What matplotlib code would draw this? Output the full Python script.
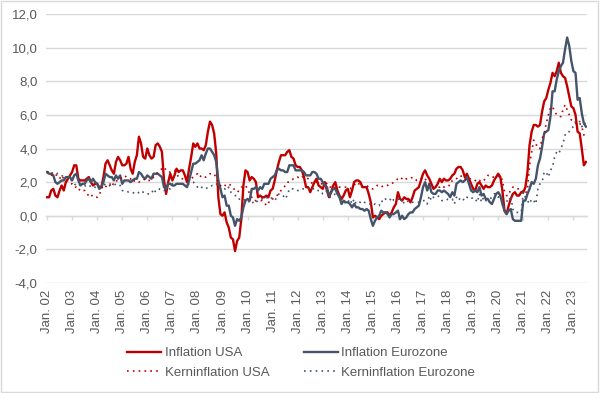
import matplotlib
matplotlib.use("Agg")
import matplotlib.pyplot as plt
from matplotlib.patches import Rectangle
import numpy as np

# Monthly YoY rates, Jan 2002 .. Jul 2023
inflation_usa = [
    1.1, 1.1, 1.5, 1.6, 1.2, 1.1, 1.5, 1.8, 1.5, 2.0, 2.2, 2.4,
    2.6, 3.0, 3.0, 2.2, 2.1, 2.1, 2.1, 2.2, 2.3, 2.0, 1.8, 1.9,
    1.9, 1.7, 1.7, 2.3, 3.1, 3.3, 3.0, 2.7, 2.5, 3.2, 3.5, 3.3,
    3.0, 3.0, 3.1, 3.5, 2.8, 2.5, 3.2, 3.6, 4.7, 4.3, 3.5, 3.4,
    4.0, 3.6, 3.4, 3.5, 4.2, 4.3, 4.1, 3.8, 2.1, 1.3, 2.0, 2.5,
    2.1, 2.4, 2.8, 2.6, 2.7, 2.7, 2.4, 2.0, 2.8, 3.5, 4.3, 4.1,
    4.3, 4.0, 4.0, 3.9, 4.2, 5.0, 5.6, 5.4, 4.9, 3.7, 1.1, 0.1,
    0.0, 0.2, -0.4, -0.7, -1.3, -1.4, -2.1, -1.5, -1.3, -0.2, 1.8, 2.7,
    2.6, 2.1, 2.3, 2.2, 2.0, 1.1, 1.2, 1.1, 1.1, 1.2, 1.1, 1.5,
    1.6, 2.1, 2.7, 3.2, 3.6, 3.6, 3.6, 3.8, 3.9, 3.5, 3.4, 3.0,
    2.9, 2.9, 2.7, 2.3, 1.7, 1.7, 1.4, 1.7, 2.0, 2.2, 1.8, 1.7,
    1.6, 2.0, 1.5, 1.1, 1.4, 1.8, 2.0, 1.5, 1.2, 1.0, 1.2, 1.5,
    1.6, 1.1, 1.5, 2.0, 2.1, 2.1, 2.0, 1.7, 1.7, 1.7, 1.3, 0.8,
    -0.1, 0.0, -0.1, -0.2, 0.0, 0.1, 0.2, 0.2, 0.0, 0.2, 0.5, 0.7,
    1.4, 1.0, 0.9, 1.1, 1.0, 1.0, 0.8, 1.1, 1.5, 1.6, 1.7, 2.1,
    2.5, 2.7, 2.4, 2.2, 1.9, 1.6, 1.7, 1.9, 2.2, 2.0, 2.2, 2.1,
    2.1, 2.2, 2.4, 2.5, 2.8, 2.9, 2.9, 2.7, 2.3, 2.5, 2.2, 1.9,
    1.6, 1.5, 1.9, 2.0, 1.8, 1.6, 1.8, 1.7, 1.7, 1.8, 2.1, 2.3,
    2.5, 2.3, 1.5, 0.3, 0.1, 0.6, 1.0, 1.3, 1.4, 1.2, 1.2, 1.4,
    1.4, 1.7, 2.6, 4.2, 5.0, 5.4, 5.4, 5.3, 5.4, 6.2, 6.8, 7.0,
    7.5, 7.9, 8.5, 8.3, 8.6, 9.1, 8.5, 8.3, 8.2, 7.7, 7.1, 6.5,
    6.4, 6.0, 5.0, 4.9, 4.0, 3.0, 3.2,
]

inflation_eurozone = [
    2.6, 2.5, 2.5, 2.4, 2.0, 1.9, 2.0, 2.1, 2.1, 2.3, 2.3, 2.3,
    2.1, 2.4, 2.5, 2.1, 1.8, 1.9, 1.9, 2.1, 2.2, 2.0, 2.2, 2.0,
    1.9, 1.6, 1.7, 2.0, 2.5, 2.4, 2.3, 2.3, 2.1, 2.4, 2.2, 2.4,
    1.9, 2.1, 2.1, 2.1, 2.0, 2.1, 2.2, 2.2, 2.6, 2.5, 2.3, 2.2,
    2.4, 2.3, 2.2, 2.5, 2.5, 2.5, 2.4, 2.3, 1.7, 1.6, 1.9, 1.9,
    1.8, 1.8, 1.9, 1.9, 1.9, 1.9, 1.8, 1.7, 2.1, 2.6, 3.1, 3.1,
    3.2, 3.3, 3.6, 3.3, 3.7, 4.0, 4.0, 3.8, 3.6, 3.2, 2.1, 1.6,
    1.1, 1.2, 0.6, 0.6, 0.0, -0.1, -0.6, -0.2, -0.3, -0.1, 0.5, 0.9,
    1.0, 0.9, 1.6, 1.6, 1.7, 1.5, 1.7, 1.6, 1.9, 1.9, 1.9, 2.2,
    2.3, 2.4, 2.7, 2.8, 2.7, 2.7, 2.6, 2.6, 3.0, 3.0, 3.0, 2.7,
    2.7, 2.7, 2.7, 2.6, 2.4, 2.4, 2.4, 2.6, 2.6, 2.5, 2.2, 2.2,
    2.0, 1.8, 1.7, 1.2, 1.4, 1.6, 1.6, 1.3, 1.1, 0.7, 0.9, 0.8,
    0.8, 0.7, 0.5, 0.7, 0.5, 0.5, 0.4, 0.4, 0.3, 0.4, 0.3, -0.2,
    -0.6, -0.3, -0.1, 0.0, 0.3, 0.2, 0.2, 0.1, -0.1, 0.1, 0.1, 0.2,
    0.3, -0.2, 0.0, -0.2, -0.1, 0.1, 0.2, 0.2, 0.4, 0.5, 0.6, 1.1,
    1.7, 2.0, 1.5, 1.9, 1.4, 1.3, 1.3, 1.5, 1.5, 1.4, 1.5, 1.4,
    1.3, 1.1, 1.4, 1.2, 1.9, 2.0, 2.1, 2.0, 2.1, 2.3, 1.9, 1.5,
    1.4, 1.5, 1.4, 1.7, 1.2, 1.3, 1.0, 1.0, 0.8, 0.7, 1.0, 1.3,
    1.4, 1.2, 0.7, 0.3, 0.1, 0.3, 0.4, -0.2, -0.3, -0.3, -0.3, -0.3,
    0.9, 0.9, 1.3, 1.6, 2.0, 1.9, 2.2, 3.0, 3.4, 4.1, 4.9, 5.0,
    5.1, 5.9, 7.4, 7.4, 8.1, 8.6, 8.9, 9.1, 9.9, 10.6, 10.1, 9.2,
    8.6, 8.5, 6.9, 7.0, 6.1, 5.5, 5.3,
]

kerninflation_usa = [
    2.6, 2.6, 2.4, 2.5, 2.5, 2.3, 2.2, 2.4, 2.2, 2.2, 2.0, 1.9,
    1.9, 1.7, 1.7, 1.5, 1.6, 1.5, 1.5, 1.3, 1.2, 1.3, 1.1, 1.1,
    1.1, 1.2, 1.6, 1.8, 1.7, 1.9, 1.8, 1.7, 2.0, 2.0, 2.2, 2.2,
    2.3, 2.4, 2.3, 2.2, 2.2, 2.0, 2.1, 2.1, 2.0, 2.1, 2.1, 2.2,
    2.1, 2.1, 2.1, 2.3, 2.4, 2.6, 2.7, 2.8, 2.9, 2.7, 2.6, 2.6,
    2.7, 2.7, 2.5, 2.3, 2.2, 2.2, 2.2, 2.1, 2.1, 2.2, 2.3, 2.4,
    2.5, 2.3, 2.4, 2.3, 2.3, 2.4, 2.5, 2.5, 2.5, 2.2, 2.0, 1.8,
    1.7, 1.8, 1.8, 1.9, 1.8, 1.7, 1.5, 1.4, 1.5, 1.7, 1.7, 1.8,
    1.6, 1.3, 1.1, 0.9, 0.9, 0.9, 0.9, 0.9, 0.8, 0.6, 0.8, 0.8,
    1.0, 1.1, 1.2, 1.3, 1.5, 1.6, 1.8, 2.0, 2.0, 2.1, 2.2, 2.2,
    2.3, 2.2, 2.3, 2.3, 2.3, 2.2, 2.1, 1.9, 2.0, 2.0, 1.9, 1.9,
    1.9, 2.0, 1.9, 1.7, 1.7, 1.6, 1.7, 1.8, 1.7, 1.7, 1.7, 1.7,
    1.6, 1.6, 1.7, 1.8, 2.0, 1.9, 1.9, 1.7, 1.7, 1.8, 1.7, 1.6,
    1.6, 1.7, 1.8, 1.8, 1.7, 1.8, 1.8, 1.8, 1.9, 1.9, 2.0, 2.1,
    2.2, 2.3, 2.2, 2.1, 2.2, 2.2, 2.2, 2.3, 2.2, 2.1, 2.1, 2.2,
    2.3, 2.2, 2.0, 1.9, 1.7, 1.7, 1.7, 1.7, 1.7, 1.8, 1.7, 1.8,
    1.8, 1.8, 2.1, 2.1, 2.2, 2.3, 2.4, 2.2, 2.2, 2.1, 2.2, 2.2,
    2.2, 2.1, 2.0, 2.1, 2.0, 2.1, 2.2, 2.4, 2.4, 2.3, 2.3, 2.3,
    2.3, 2.4, 2.1, 1.4, 1.2, 1.2, 1.6, 1.7, 1.7, 1.6, 1.6, 1.6,
    1.4, 1.3, 1.6, 3.0, 3.8, 4.5, 4.3, 4.0, 4.0, 4.6, 4.9, 5.5,
    6.0, 6.4, 6.5, 6.2, 6.0, 5.9, 5.9, 6.3, 6.6, 6.3, 6.0, 5.7,
    5.6, 5.5, 5.6, 5.5, 5.3, 4.8, 4.7,
]

kerninflation_eurozone = [
    2.5, 2.6, 2.5, 2.6, 2.6, 2.5, 2.5, 2.4, 2.3, 2.3, 2.3, 2.3,
    2.0, 1.9, 1.8, 1.9, 1.8, 1.8, 1.8, 1.7, 1.7, 1.8, 1.7, 1.7,
    1.6, 1.7, 1.7, 1.8, 1.9, 1.9, 1.9, 1.8, 1.8, 1.9, 1.9, 1.8,
    1.5, 1.5, 1.5, 1.4, 1.4, 1.4, 1.3, 1.3, 1.4, 1.5, 1.4, 1.4,
    1.3, 1.3, 1.3, 1.6, 1.4, 1.5, 1.6, 1.6, 1.5, 1.6, 1.6, 1.6,
    1.9, 1.8, 1.9, 1.9, 1.9, 1.9, 1.9, 1.9, 1.9, 2.0, 2.0, 1.9,
    1.7, 1.8, 1.7, 1.6, 1.6, 1.7, 1.7, 1.8, 1.8, 1.9, 1.7, 1.6,
    1.5, 1.6, 1.5, 1.7, 1.4, 1.3, 1.2, 1.2, 1.0, 0.9, 0.9, 1.0,
    0.9, 0.8, 0.9, 0.7, 0.8, 0.9, 1.0, 1.0, 1.0, 1.1, 1.0, 1.1,
    1.0, 0.9, 1.1, 1.3, 1.3, 1.2, 1.0, 1.2, 1.6, 1.6, 1.6, 1.6,
    1.5, 1.5, 1.6, 1.6, 1.6, 1.6, 1.7, 1.7, 1.5, 1.5, 1.5, 1.5,
    1.3, 1.3, 1.5, 1.0, 1.2, 1.2, 1.3, 1.3, 1.2, 0.8, 0.9, 0.7,
    0.8, 1.0, 0.7, 1.0, 0.7, 0.8, 0.8, 0.9, 0.8, 0.7, 0.7, 0.7,
    0.6, 0.7, 0.6, 0.6, 0.9, 0.8, 1.0, 0.9, 0.9, 1.1, 0.9, 0.9,
    1.0, 0.8, 1.0, 0.7, 0.8, 0.9, 0.9, 0.8, 0.8, 0.8, 0.8, 0.9,
    0.9, 0.9, 0.7, 1.2, 0.9, 1.1, 1.2, 1.2, 1.1, 0.9, 0.9, 0.9,
    1.0, 1.0, 1.0, 0.7, 1.1, 0.9, 1.1, 1.0, 0.9, 1.1, 1.0, 1.0,
    1.1, 1.0, 0.8, 1.3, 0.8, 1.1, 0.9, 0.9, 1.0, 1.1, 1.3, 1.3,
    1.1, 1.2, 1.0, 0.9, 0.9, 0.8, 1.2, 0.4, 0.2, 0.2, 0.2, 0.2,
    1.4, 1.1, 0.9, 0.7, 1.0, 0.9, 0.7, 1.6, 1.9, 2.0, 2.6, 2.6,
    2.3, 2.7, 2.9, 3.5, 3.8, 3.7, 4.0, 4.3, 4.8, 5.0, 5.0, 5.2,
    5.3, 5.6, 5.7, 5.6, 5.3, 5.5, 5.5,
]

tick_labels = ["Jan. %02d" % y for y in range(2, 24)]
y_ticks = [-4, -2, 0, 2, 4, 6, 8, 10, 12]

RED = "#C00000"
SLATE = "#44546A"
TXT = "#595959"
GRID = "#D9D9D9"

plt.rcParams["font.family"] = ["Liberation Sans", "DejaVu Sans"]

W, H = 602, 393
fig = plt.figure(figsize=(W / 100, H / 100), dpi=100)
left, right, top, bottom = 46, 587, 14, 283
ax = fig.add_axes([left / W, 1 - bottom / H, (right - left) / W, (bottom - top) / H])

n = len(inflation_usa)
x = np.arange(n)

l1, = ax.plot(x, inflation_usa, color=RED, lw=1.7, label="Inflation USA", zorder=3)
l2, = ax.plot(x, inflation_eurozone, color=SLATE, lw=1.7, label="Inflation Eurozone", zorder=3)
l3, = ax.plot(x, kerninflation_usa, color=RED, lw=1.2, ls=(0, (1, 2.5)),
              label="Kerninflation USA", zorder=4)
l4, = ax.plot(x, kerninflation_eurozone, color=SLATE, lw=1.2, ls=(0, (1, 2.5)),
              label="Kerninflation Eurozone", zorder=4)

ax.set_xlim(-0.5, n - 0.5)
ax.set_ylim(-4, 12)
ax.set_yticks(y_ticks)
ax.set_yticklabels([("%.1f" % v).replace(".", ",") for v in y_ticks])
ax.yaxis.grid(True, color=GRID, lw=1.0, zorder=0)
ax.set_axisbelow(True)
for s in ax.spines.values():
    s.set_visible(False)
ax.tick_params(axis="y", length=0, pad=6, labelsize=9.5, labelcolor=TXT)

tick_pos = list(range(0, n, 12))
ax.set_xticks(tick_pos)
ax.set_xticklabels(tick_labels, rotation=90)
ax.tick_params(axis="x", length=0, pad=5, labelsize=9.5, labelcolor=TXT)

# horizontal axis line at 0 with tick marks
sec = ax.secondary_xaxis(0.25)
sec.set_xticks(tick_pos)
sec.set_xticklabels([])
sec.tick_params(axis="x", direction="out", length=3, color=GRID, width=1.0)
sec.spines["bottom"].set_color(GRID)
sec.spines["bottom"].set_linewidth(1.0)

leg = fig.legend(handles=[l1, l3, l2, l4], ncol=2, loc="center",
                 bbox_to_anchor=(0.5, 1 - 363 / H), frameon=False,
                 fontsize=9.5, handlelength=2.6, handletextpad=0.25,
                 columnspacing=2.6, labelspacing=0.55)
for t in leg.get_texts():
    t.set_color(TXT)

fig.patches.append(Rectangle((1 / W, 1 / H), 597 / W, 391 / H, transform=fig.transFigure,
                             fill=False, edgecolor=GRID, lw=1.0))

fig.savefig("out.png", dpi=100)
